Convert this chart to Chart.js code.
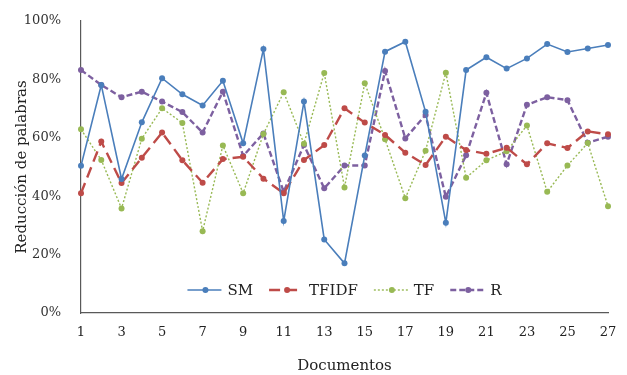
<!DOCTYPE html>
<html>
<head>
<meta charset="utf-8">
<script src="https://cdn.jsdelivr.net/npm/chart.js@4.4.1/dist/chart.umd.min.js"></script>
<style>
  html, body { margin: 0; padding: 0; background: #fff; }
  #wrap { width: 627px; height: 375px; }
</style>
</head>
<body>
<div id="wrap"><canvas id="chart" width="627" height="375"></canvas></div>
<script>
// Data
const documents = ['1','2','3','4','5','6','7','8','9','10','11','12','13','14','15','16','17','18','19','20','21','22','23','24','25','26','27'];
const smValues    = [50.4, 78.1, 45.9, 65.3, 80.4, 74.9, 71.1, 79.5, 58.1, 90.4, 31.5, 72.4, 25.2, 17.0, 53.9, 89.5, 92.9, 68.9, 30.9, 83.2, 87.6, 83.7, 87.2, 92.1, 89.4, 90.6, 91.8];
const tfidfValues = [41.0, 58.7, 44.5, 53.2, 61.8, 52.3, 44.6, 52.7, 53.5, 46.0, 41.0, 52.4, 57.5, 70.1, 65.2, 61.0, 54.9, 50.7, 60.4, 55.8, 54.5, 56.6, 50.9, 58.1, 56.5, 62.2, 61.2];
const tfValues    = [62.9, 52.4, 35.8, 59.7, 70.1, 65.1, 28.0, 57.4, 41.0, 61.3, 75.6, 58.0, 82.2, 43.0, 78.7, 59.5, 39.3, 55.6, 82.3, 46.3, 52.3, 55.4, 64.2, 41.5, 50.5, 58.2, 36.6];
const rValues     = [83.2, 78.1, 73.9, 75.8, 72.4, 68.8, 61.8, 75.8, 53.8, 61.5, 41.5, 57.5, 42.7, 50.5, 50.5, 82.9, 59.8, 67.8, 39.8, 54.0, 75.4, 50.9, 71.3, 73.9, 72.9, 58.3, 60.4];
const yTicks = [0, 20, 40, 60, 80, 100];

const FONT = '"DejaVu Serif", "Liberation Serif", serif';

// Series styles
const series = [
    { label: 'SM',    data: smValues,    color: '#4a7ebb', width: 1.6, dash: [] },
    { label: 'TFIDF', data: tfidfValues, color: '#be4b48', width: 2.4, dash: [11, 6] },
    { label: 'TF',    data: tfValues,    color: '#98b954', width: 1.4, dash: [2, 2] },
    { label: 'R',     data: rValues,     color: '#7d60a0', width: 2.4, dash: [6, 3] }
];

// Legend drawn inside the plot area, near the bottom
const innerLegend = {
    id: 'innerLegend',
    afterDatasetsDraw(chart) {
        const ctx = chart.ctx;
        const area = chart.chartArea;
        const lineLen = 34, gapText = 6, gapItem = 16;
        ctx.save();
        ctx.font = '15px ' + FONT;
        ctx.textBaseline = 'middle';
        const widths = series.map(s => lineLen + gapText + ctx.measureText(s.label).width);
        const total = widths.reduce((a, b) => a + b, 0) + gapItem * (series.length - 1);
        let x = (area.left + area.right) / 2 - total / 2;
        const y = area.bottom - 23;
        series.forEach((s, i) => {
            ctx.strokeStyle = s.color;
            ctx.lineWidth = s.width;
            ctx.setLineDash(s.dash);
            ctx.beginPath();
            ctx.moveTo(x, y);
            ctx.lineTo(x + lineLen, y);
            ctx.stroke();
            ctx.setLineDash([]);
            ctx.fillStyle = s.color;
            ctx.beginPath();
            ctx.arc(x + lineLen / 2 + 1, y, 3, 0, Math.PI * 2);
            ctx.fill();
            ctx.fillStyle = '#222';
            ctx.fillText(s.label, x + lineLen + gapText, y + 1);
            x += widths[i] + gapItem;
        });
        ctx.restore();
    }
};

const ctx = document.getElementById('chart').getContext('2d');
new Chart(ctx, {
    type: 'line',
    data: {
        labels: documents,
        datasets: series.map(s => ({
            label: s.label,
            data: s.data,
            borderColor: s.color,
            backgroundColor: s.color,
            borderWidth: s.width,
            borderDash: s.dash,
            pointRadius: 3,
            pointBorderWidth: 0,
            pointHoverRadius: 3,
            tension: 0,
            fill: false
        }))
    },
    options: {
        responsive: false,
        animation: false,
        events: [],
        layout: { padding: { left: 0, right: 19, top: 21, bottom: 0 } },
        plugins: {
            legend: { display: false },
            tooltip: { enabled: false }
        },
        scales: {
            x: {
                offset: false,
                grid: { display: false },
                border: { display: true, color: '#595959', width: 1.2 },
                ticks: {
                    autoSkip: false,
                    maxRotation: 0,
                    padding: 4,
                    color: '#222',
                    font: { family: FONT, size: 13 },
                    callback: (v, i) => (i % 2 === 0 ? documents[i] : '')
                },
                title: {
                    display: true,
                    text: 'Documentos',
                    color: '#222',
                    font: { family: FONT, size: 15 },
                    padding: { top: 18, bottom: 0 }
                },
                afterFit: scale => { scale.height = 62; }
            },
            y: {
                min: 0,
                max: 100,
                grid: { display: false },
                border: { display: true, color: '#595959', width: 1.2 },
                afterBuildTicks: scale => { scale.ticks = yTicks.map(v => ({ value: v })); },
                ticks: {
                    padding: 12,
                    color: '#333',
                    font: { family: FONT, size: 13 },
                    callback: v => v + '%'
                },
                title: {
                    display: true,
                    text: 'Reducción de palabras',
                    color: '#222',
                    font: { family: FONT, size: 15 },
                    padding: { top: 13, bottom: 6 }
                },
                afterFit: scale => { scale.width = 81; }
            }
        }
    },
    plugins: [innerLegend]
});
</script>
</body>
</html>
